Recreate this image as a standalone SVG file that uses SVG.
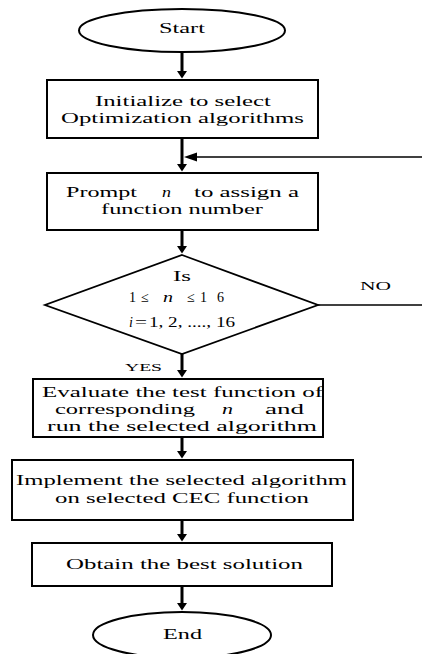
<svg xmlns="http://www.w3.org/2000/svg" width="422" height="654" viewBox="0 0 422 654">
<style>
.shape{fill:#fff;stroke:#000;stroke-width:2}
.t{font-family:"Liberation Serif","Times New Roman",serif;font-size:15.5px;fill:#000}
.m{font-family:"Liberation Serif","Times New Roman",serif;font-size:14px;fill:#000}
.s{font-family:"Liberation Serif","Times New Roman",serif;font-size:12px;fill:#000}
.it{font-style:italic}
.main{stroke:#000;stroke-width:3;fill:none}
.thin{stroke:#000;stroke-width:1.5;fill:none}
</style>
<defs>
<marker id="ah" markerUnits="userSpaceOnUse" markerWidth="12" markerHeight="10" refX="0" refY="6" orient="auto" viewBox="0 0 10 12" overflow="visible">
<path d="M0,0 L9,6 L0,12 z" fill="#000"/>
</marker>
<marker id="ahs" markerUnits="userSpaceOnUse" markerWidth="14" markerHeight="9" refX="0" refY="4.5" orient="auto" viewBox="0 0 14 9" overflow="visible">
<path d="M0,0 L13,4.5 L0,9 z" fill="#000"/>
</marker>
</defs>
<g id="connectors">
<line class="main" x1="182" y1="52" x2="182" y2="71" marker-end="url(#ah)"/>
<line class="main" x1="182" y1="138" x2="182" y2="164" marker-end="url(#ah)"/>
<line class="thin" x1="422" y1="157" x2="197" y2="157" marker-end="url(#ahs)"/>
<line class="main" x1="182" y1="230" x2="182" y2="246" marker-end="url(#ah)"/>
<line class="thin" x1="318" y1="305" x2="422" y2="305"/>
<line class="main" x1="182" y1="354" x2="182" y2="370" marker-end="url(#ah)"/>
<line class="main" x1="182" y1="437" x2="182" y2="451" marker-end="url(#ah)"/>
<line class="main" x1="182" y1="520" x2="182" y2="534" marker-end="url(#ah)"/>
<line class="main" x1="182" y1="586" x2="182" y2="603" marker-end="url(#ah)"/>
<text class="s" x="360" y="290" textLength="31" lengthAdjust="spacingAndGlyphs">NO</text>
<text class="s" x="125" y="371" textLength="37" lengthAdjust="spacingAndGlyphs" style="font-size:11px">YES</text>
</g>
<g id="start">
<ellipse class="shape" cx="182" cy="30.5" rx="103" ry="21.5"/>
<text class="t" x="159" y="33" textLength="46" lengthAdjust="spacingAndGlyphs">Start</text>
</g>
<g id="init">
<rect class="shape" x="47" y="80" width="271" height="58"/>
<text class="t" x="95" y="106" textLength="176" lengthAdjust="spacingAndGlyphs">Initialize to select</text>
<text class="t" x="61" y="123" textLength="243" lengthAdjust="spacingAndGlyphs">Optimization algorithms</text>
</g>
<g id="prompt">
<rect class="shape" x="47" y="173" width="271" height="57"/>
<text class="t" x="66" y="197" textLength="71" lengthAdjust="spacingAndGlyphs">Prompt</text>
<text class="t it" x="162" y="197" textLength="9" lengthAdjust="spacingAndGlyphs">n</text>
<text class="t" x="194" y="197" textLength="105" lengthAdjust="spacingAndGlyphs">to assign a</text>
<text class="t" x="101" y="214" textLength="162" lengthAdjust="spacingAndGlyphs">function number</text>
</g>
<g id="decision">
<polygon class="shape" points="182,255 318,305 182,354 45,305" style="stroke-width:1.8"/>
<text class="t" x="173" y="281" textLength="18" lengthAdjust="spacingAndGlyphs">Is</text>
<text class="m" x="129" y="302">1</text>
<text class="m" x="141" y="302">≤</text>
<text class="m it" x="163" y="302" textLength="10" lengthAdjust="spacingAndGlyphs">n</text>
<text class="m" x="187" y="302">≤</text>
<text class="m" y="302"><tspan x="200">1</tspan><tspan x="217">6</tspan></text>
<text class="m it" x="129" y="327">i</text>
<text class="m" x="135" y="327" textLength="12" lengthAdjust="spacingAndGlyphs">=</text>
<text class="m" x="149" y="327" textLength="86" lengthAdjust="spacingAndGlyphs">1, 2, ...., 16</text>
</g>
<g id="evaluate">
<rect class="shape" x="33" y="379" width="290" height="58"/>
<text class="t" x="42" y="397" textLength="281" lengthAdjust="spacingAndGlyphs">Evaluate the test function of</text>
<text class="t" x="55" y="414" textLength="140" lengthAdjust="spacingAndGlyphs">corresponding</text>
<text class="t it" x="222" y="414" textLength="11" lengthAdjust="spacingAndGlyphs">n</text>
<text class="t" x="265" y="414" textLength="39" lengthAdjust="spacingAndGlyphs">and</text>
<text class="t" x="47" y="431" textLength="270" lengthAdjust="spacingAndGlyphs">run the selected algorithm</text>
</g>
<g id="implement">
<rect class="shape" x="12" y="460" width="341" height="60"/>
<text class="t" x="16" y="485" textLength="331" lengthAdjust="spacingAndGlyphs">Implement the selected algorithm</text>
<text class="t" x="55" y="503" textLength="254" lengthAdjust="spacingAndGlyphs">on selected CEC function</text>
</g>
<g id="obtain">
<rect class="shape" x="32" y="543" width="300" height="43"/>
<text class="t" x="66" y="569" textLength="237" lengthAdjust="spacingAndGlyphs">Obtain the best solution</text>
</g>
<g id="end">
<ellipse class="shape" cx="182" cy="635" rx="89" ry="23"/>
<text class="t" x="163" y="639" textLength="39" lengthAdjust="spacingAndGlyphs">End</text>
</g>
</svg>
